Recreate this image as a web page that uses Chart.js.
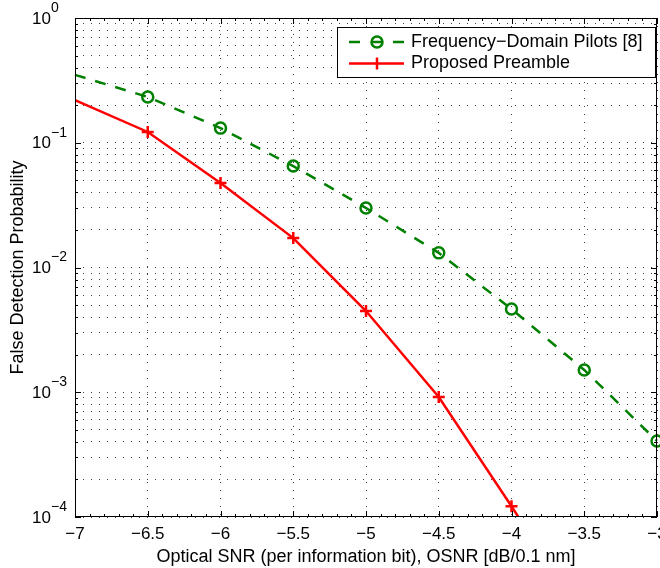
<!DOCTYPE html>
<html>
<head>
<meta charset="utf-8">
<script src="https://cdn.jsdelivr.net/npm/chart.js@4.4.1/dist/chart.umd.min.js"></script>
<style>
  html, body { margin: 0; padding: 0; background: #fff; }
  #wrap { width: 660px; height: 568px; }
</style>
</head>
<body>
<div id="wrap"><canvas id="myChart" width="660" height="568"></canvas></div>
<script>
// values
const osnr = [-7, -6.5, -6, -5.5, -5, -4.5, -4, -3.5, -3];
const pilotsFD = [0.35, 0.233, 0.131, 0.065, 0.030, 0.0131, 0.00465, 0.00151, 0.000407];
const preamble = [0.22, 0.122, 0.0476, 0.0172, 0.00448, 0.000916, 0.000122, 0.000015, null];
const xTickValues = [-7, -6.5, -6, -5.5, -5, -4.5, -4, -3.5, -3];
const yDecades = [-4, -3, -2, -1, 0];
const seriesNames = ['Frequency\u2212Domain Pilots [8]', 'Proposed Preamble'];

const green = 'rgb(0,128,0)';
const red = 'rgb(255,0,0)';
const FONT = '"Liberation Sans", Arial, Helvetica, sans-serif';

function minus(v) {
    return String(v).replace('-', '\u2212');
}

// axis box, inward ticks, tick labels (with superscripts) and the legend
const decorPlugin = {
    id: 'decor',
    afterDraw(chart) {
        const ctx = chart.ctx;
        const a = chart.chartArea;
        const x = chart.scales.x;
        const y = chart.scales.y;
        ctx.save();

        ctx.strokeStyle = '#000';
        ctx.lineWidth = 1;
        ctx.beginPath();
        for (let k = -70; k <= -30; k++) {
            const px = Math.round(x.getPixelForValue(k / 10)) + 0.5;
            const len = (k % 5 === 0) ? 6 : 3;
            ctx.moveTo(px, a.bottom); ctx.lineTo(px, a.bottom - len);
            ctx.moveTo(px, a.top); ctx.lineTo(px, a.top + len);
        }
        y.ticks.forEach((t) => {
            const py = Math.round(y.getPixelForValue(t.value)) + 0.5;
            const isDecade = Math.abs(Math.log10(t.value) - Math.round(Math.log10(t.value))) < 1e-9;
            const len = isDecade ? 6 : 3;
            ctx.moveTo(a.left, py); ctx.lineTo(a.left + len, py);
            ctx.moveTo(a.right, py); ctx.lineTo(a.right - len, py);
        });
        ctx.stroke();
        ctx.strokeRect(a.left + 0.5, a.top + 0.5, a.right - a.left - 1, a.bottom - a.top - 1);

        ctx.fillStyle = '#000';
        // x tick labels
        ctx.font = '17px ' + FONT;
        ctx.textAlign = 'center';
        ctx.textBaseline = 'middle';
        xTickValues.forEach((v) => {
            ctx.fillText(minus(v), x.getPixelForValue(v), a.bottom + 17);
        });

        // y tick labels 10^n
        yDecades.forEach((e) => {
            const py = y.getPixelForValue(Math.pow(10, e));
            ctx.font = '17px ' + FONT;
            ctx.textAlign = 'right';
            ctx.textBaseline = 'middle';
            ctx.fillText('10', 51, py + 1);
            ctx.font = '14px ' + FONT;
            ctx.textAlign = 'left';
            ctx.fillText(e === 0 ? '0' : minus(e), 51, py - 10);
        });

        // legend
        const lx = 337.5, ly = 27.5, lw = 318, lh = 50;
        ctx.fillStyle = '#fff';
        ctx.fillRect(lx, ly, lw, lh);
        ctx.strokeStyle = '#000';
        ctx.lineWidth = 1;
        ctx.strokeRect(lx, ly, lw, lh);

        const rows = [42, 63.5];
        ctx.lineWidth = 2.5;
        // row 1: dashed green with circle
        ctx.strokeStyle = green;
        ctx.setLineDash([11, 11]);
        ctx.beginPath();
        ctx.moveTo(349, rows[0]); ctx.lineTo(404, rows[0]);
        ctx.stroke();
        ctx.setLineDash([]);
        ctx.beginPath();
        ctx.arc(377, rows[0], 5.5, 0, Math.PI * 2);
        ctx.stroke();
        // row 2: solid red with cross
        ctx.strokeStyle = red;
        ctx.beginPath();
        ctx.moveTo(349, rows[1]); ctx.lineTo(404, rows[1]);
        ctx.moveTo(377, rows[1] - 6); ctx.lineTo(377, rows[1] + 6);
        ctx.stroke();

        ctx.fillStyle = '#000';
        ctx.font = '18px ' + FONT;
        ctx.textAlign = 'left';
        ctx.textBaseline = 'middle';
        ctx.fillText(seriesNames[0], 411, rows[0]);
        ctx.fillText(seriesNames[1], 411, rows[1]);

        ctx.restore();
    }
};

const ctx = document.getElementById('myChart');

new Chart(ctx, {
    type: 'line',
    data: {
        datasets: [{
            label: seriesNames[0],
            data: osnr.map((v, i) => ({ x: v, y: pilotsFD[i] })),
            borderColor: green,
            borderWidth: 2.5,
            borderDash: [11, 10],
            pointStyle: 'circle',
            pointRadius: [0, 5.5, 5.5, 5.5, 5.5, 5.5, 5.5, 5.5, 5.5],
            pointBorderWidth: 2.5,
            pointBorderColor: green,
            pointBackgroundColor: 'rgba(0,0,0,0)',
            tension: 0,
            clip: false
        }, {
            label: seriesNames[1],
            data: osnr.map((v, i) => ({ x: v, y: preamble[i] })),
            borderColor: red,
            borderWidth: 2.5,
            pointStyle: 'cross',
            pointRadius: [0, 6, 6, 6, 6, 6, 6, 0, 0],
            pointBorderWidth: 2.5,
            pointBorderColor: red,
            tension: 0
        }]
    },
    options: {
        responsive: false,
        animation: false,
        devicePixelRatio: 1,
        events: [],
        layout: { autoPadding: false, padding: { top: 18, right: 3, left: 0, bottom: 0 } },
        plugins: {
            legend: { display: false },
            tooltip: { enabled: false }
        },
        scales: {
            x: {
                type: 'linear',
                min: -7,
                max: -3,
                afterBuildTicks: (scale) => {
                    scale.ticks = xTickValues.map((v) => ({ value: v }));
                },
                afterFit: (scale) => {
                    scale.height = 51;
                },
                ticks: { display: false, autoSkip: false },
                grid: {
                    drawTicks: false,
                    color: 'rgba(0,0,0,0.75)',
                    lineWidth: 1
                },
                border: { display: false, dash: [1, 7] },
                title: {
                    display: true,
                    text: 'Optical SNR (per information bit), OSNR [dB/0.1 nm]',
                    color: '#000',
                    font: { family: FONT, size: 18 },
                    padding: { top: 0, bottom: 0 }
                }
            },
            y: {
                type: 'logarithmic',
                min: 1e-4,
                max: 1,
                afterBuildTicks: (scale) => {
                    const t = [];
                    yDecades.forEach((e) => {
                        const steps = e === 0 ? 1 : 9;
                        for (let m = 1; m <= steps; m++) {
                            t.push({ value: m * Math.pow(10, e) });
                        }
                    });
                    scale.ticks = t;
                },
                afterFit: (scale) => {
                    scale.width = 75;
                },
                ticks: { display: false, autoSkip: false },
                grid: {
                    drawTicks: false,
                    color: 'rgba(0,0,0,0.75)',
                    lineWidth: 1
                },
                border: { display: false, dash: [1, 7] },
                title: {
                    display: true,
                    text: 'False Detection Probability',
                    color: '#000',
                    font: { family: FONT, size: 18 },
                    padding: { top: 7, bottom: 0 }
                }
            }
        }
    },
    plugins: [decorPlugin]
});
</script>
</body>
</html>
